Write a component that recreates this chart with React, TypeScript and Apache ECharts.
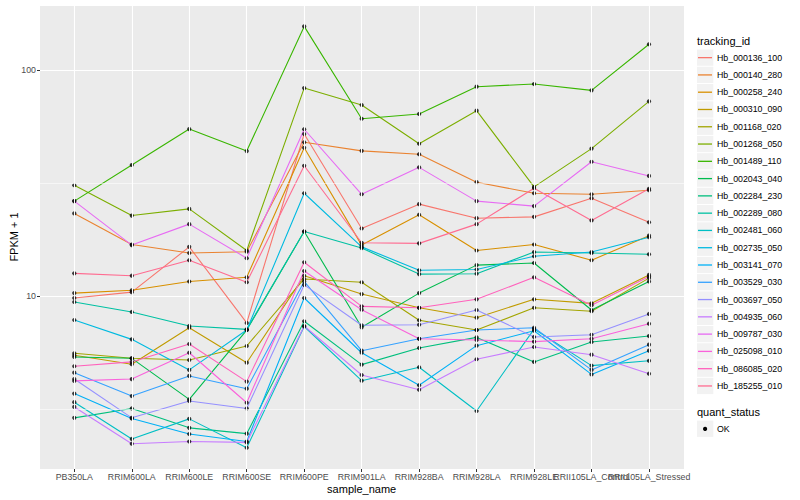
import React, { useEffect, useRef } from "react";
import * as echarts from "echarts";

const categories = [
  "PB350LA", "RRIM600LA", "RRIM600LE", "RRIM600SE", "RRIM600PE", "RRIM901LA",
  "RRIM928BA", "RRIM928LA", "RRIM928LE", "RRII105LA_Control", "RRII105LA_Stressed",
];

const trackingIds = [
  "Hb_000136_100", "Hb_000140_280", "Hb_000258_240", "Hb_000310_090", "Hb_001168_020",
  "Hb_001268_050", "Hb_001489_110", "Hb_002043_040", "Hb_002284_230", "Hb_002289_080",
  "Hb_002481_060", "Hb_002735_050", "Hb_003141_070", "Hb_003529_030", "Hb_003697_050",
  "Hb_004935_060", "Hb_009787_030", "Hb_025098_010", "Hb_086085_020", "Hb_185255_010",
];

const colors = [
  "#F8766D", "#EA8331", "#D89000", "#C09B00", "#A3A500", "#7CAE00", "#39B600",
  "#00BB4E", "#00BF7D", "#00C1A3", "#00BFC4", "#00BAE0", "#00B0F6", "#35A2FF",
  "#9590FF", "#C77CFF", "#E76BF3", "#FA62DB", "#FF62BC", "#FF6C91",
];

// FPKM + 1 per sample, in category order
const Hb_000136_100 = [9.8, 10.4, 16.5, 7.6, 52.1, 19.9, 25.5, 22.1, 22.4, 27.1, 21.2];
const Hb_000140_280 = [23.2, 16.9, 15.5, 15.7, 47.9, 43.9, 42.4, 31.9, 28.5, 28.2, 29.4];
const Hb_000258_240 = [10.3, 10.6, 11.6, 12.1, 45.3, 16.8, 22.9, 15.9, 16.9, 14.4, 18.5];
const Hb_000310_090 = [5.47, 4.99, 7.24, 5.07, 12.3, 10.2, 8.87, 8.02, 9.67, 9.28, 12.4];
const Hb_001168_020 = [5.58, 5.3, 5.21, 6.01, 11.9, 11.5, 7.81, 7.07, 8.87, 8.56, 12.0];
const Hb_001268_050 = [30.9, 22.7, 24.3, 15.9, 83.2, 70.0, 47.2, 66.1, 30.4, 44.9, 72.7];
const Hb_001489_110 = [26.3, 38.0, 54.8, 43.8, 156, 60.9, 63.9, 84.4, 86.7, 81.3, 130];
const Hb_002043_040 = [5.37, 5.3, 3.49, 7.07, 19.3, 7.27, 10.3, 13.7, 14.0, 8.67, 11.6];
const Hb_002284_230 = [2.89, 3.18, 2.61, 2.46, 7.73, 4.97, 5.89, 6.56, 5.11, 6.26, 6.65];
const Hb_002289_080 = [9.41, 8.5, 7.37, 7.12, 19.3, 16.3, 12.5, 12.55, 15.65, 15.5, 15.3];
const Hb_002481_060 = [3.39, 2.33, 2.86, 2.13, 7.33, 4.22, 4.84, 3.1, 7.14, 4.92, 5.17];
const Hb_002735_050 = [7.83, 6.43, 4.71, 7.07, 28.5, 16.5, 13.0, 13.1, 15.0, 15.65, 18.2];
const Hb_003141_070 = [3.7, 2.87, 2.45, 2.27, 9.8, 5.61, 4.03, 6.03, 7.02, 4.5, 5.73];
const Hb_003529_030 = [4.58, 3.61, 4.43, 3.89, 11.6, 5.73, 6.47, 7.07, 7.24, 4.71, 6.09];
const Hb_003697_050 = [4.29, 2.89, 3.43, 3.18, 11.2, 7.42, 7.46, 8.67, 6.59, 6.74, 8.33];
const Hb_004935_060 = [3.23, 2.22, 2.27, 2.25, 7.37, 4.47, 3.85, 5.25, 5.95, 5.5, 4.53];
const Hb_009787_030 = [26.3, 16.8, 20.8, 14.7, 54.7, 28.2, 37.1, 26.3, 25.0, 39.3, 34.0];
const Hb_025098_010 = [4.21, 4.29, 5.61, 3.37, 12.9, 8.7, 6.47, 6.39, 6.28, 6.47, 7.54];
const Hb_086085_020 = [4.89, 5.11, 6.13, 4.18, 14.1, 9.0, 8.87, 9.67, 12.1, 9.1, 12.2];
const Hb_185255_010 = [12.6, 12.3, 14.4, 11.5, 37.7, 17.2, 17.1, 20.8, 30.0, 21.6, 29.8];

const seriesValues = [
  Hb_000136_100, Hb_000140_280, Hb_000258_240, Hb_000310_090, Hb_001168_020,
  Hb_001268_050, Hb_001489_110, Hb_002043_040, Hb_002284_230, Hb_002289_080,
  Hb_002481_060, Hb_002735_050, Hb_003141_070, Hb_003529_030, Hb_003697_050,
  Hb_004935_060, Hb_009787_030, Hb_025098_010, Hb_086085_020, Hb_185255_010,
];

const minorBreaks = [3.1623, 31.623];
const yMin = 1.716;
const yMax = 194;

const FONT = "'Liberation Sans', Arial, Helvetica, sans-serif";
const KEY_TOP = 49;
const KEY_H = 17.28;

function buildOption() {
  const lineSeries = trackingIds.map((id, i) => ({
    name: id,
    type: "line",
    xAxisIndex: 1,
    yAxisIndex: 1,
    data: seriesValues[i],
    showSymbol: false,
    symbol: "none",
    silent: true,
    z: 3,
    lineStyle: { color: colors[i], width: 1.1 },
    itemStyle: { color: colors[i] },
  }));
  const pointSeries = trackingIds.map((id, i) => ({
    name: id,
    type: "scatter",
    xAxisIndex: 1,
    yAxisIndex: 1,
    data: seriesValues[i],
    symbol: "circle",
    symbolSize: 4.2,
    silent: true,
    z: 4,
    itemStyle: { color: "#000000" },
  }));

  const graphics: any[] = [
    {
      type: "text", x: 697, y: 40.5, z: 10,
      style: { text: "tracking_id", fontSize: 11, fontFamily: FONT, fill: "#000", verticalAlign: "middle", align: "left" },
    },
    {
      type: "text", x: 697, y: 412.3, z: 10,
      style: { text: "quant_status", fontSize: 11, fontFamily: FONT, fill: "#000", verticalAlign: "middle", align: "left" },
    },
    {
      type: "rect", z: 1, shape: { x: 697, y: 420.6, width: 16.3, height: 16.3 },
      style: { fill: "#F2F2F2" },
    },
    {
      type: "circle", z: 10, shape: { cx: 705.1, cy: 428.9, r: 2.1 },
      style: { fill: "#000" },
    },
    {
      type: "text", x: 717, y: 428.9, z: 10,
      style: { text: "OK", fontSize: 8.8, fontFamily: FONT, fill: "#000", verticalAlign: "middle", align: "left" },
    },
  ];
  trackingIds.forEach((_, i) => {
    graphics.push({
      type: "rect", z: 1,
      shape: { x: 697, y: KEY_TOP + i * KEY_H + 0.5, width: 16.3, height: KEY_H - 1 },
      style: { fill: "#F2F2F2" },
    });
  });

  return {
    animation: false,
    backgroundColor: "#ffffff",
    textStyle: { fontFamily: FONT },
    grid: [
      { left: 40, right: 116, top: 5, bottom: 31, show: true, backgroundColor: "#EBEBEB", borderWidth: 0, containLabel: false, outerBoundsMode: "none" },
      { left: 45.57, right: 122.26, top: 5, bottom: 31, show: false, containLabel: false, outerBoundsMode: "none" },
    ],
    xAxis: [
      { type: "value", gridIndex: 0, min: 0, max: 1, show: false },
      {
        type: "category",
        gridIndex: 1,
        data: categories,
        boundaryGap: true,
        axisLine: { show: false },
        axisTick: { show: true, alignWithLabel: true, length: 3, lineStyle: { color: "#333333", width: 1 } },
        axisLabel: { interval: 0, fontSize: 8.8, color: "#4D4D4D", margin: 3, fontFamily: FONT },
        splitLine: { show: false },
        name: "sample_name",
        nameLocation: "middle",
        nameGap: 14.5,
        nameMoveOverlap: false,
        nameTextStyle: { fontSize: 11, color: "#000", fontFamily: FONT },
      },
    ],
    yAxis: [
      {
        type: "log",
        logBase: 10,
        gridIndex: 0,
        min: yMin,
        max: yMax,
        axisLine: { show: false },
        axisTick: { show: true, length: 3, lineStyle: { color: "#333333", width: 1 } },
        axisLabel: { fontSize: 8.8, color: "#4D4D4D", margin: 4, showMinLabel: false, showMaxLabel: false, fontFamily: FONT },
        splitLine: { show: true, lineStyle: { color: "#ffffff", width: 1.1 } },
        name: "FPKM + 1",
        nameLocation: "middle",
        nameGap: 21,
        nameMoveOverlap: false,
        nameRotate: 90,
        nameTextStyle: { fontSize: 11, color: "#000", fontFamily: FONT },
      },
      { type: "log", logBase: 10, gridIndex: 1, min: yMin, max: yMax, show: false },
    ],
    legend: {
      orient: "vertical",
      left: 698,
      top: KEY_TOP,
      padding: 0,
      itemGap: 0,
      itemWidth: 14,
      itemHeight: KEY_H,
      icon: "path://M0,0H14V1.3H0Z",
      selectedMode: false,
      z: 6,
      itemStyle: { borderWidth: 0 },
      textStyle: { fontSize: 8.8, color: "#000", lineHeight: KEY_H, fontFamily: FONT },
      data: trackingIds.map((id, i) => ({ name: id, itemStyle: { color: colors[i], borderWidth: 0 } })),
    },
    graphic: graphics,
    series: [
      {
        type: "line",
        xAxisIndex: 0,
        yAxisIndex: 0,
        data: [],
        silent: true,
        z: 1,
        markLine: {
          silent: true,
          animation: false,
          symbol: ["none", "none"],
          label: { show: false },
          lineStyle: { color: "#ffffff", width: 0.55, type: "solid" },
          emphasis: { disabled: true },
          data: minorBreaks.map((v) => ({ yAxis: v })),
        },
      },
      {
        type: "line",
        xAxisIndex: 1,
        yAxisIndex: 1,
        data: [],
        silent: true,
        z: 1,
        markLine: {
          silent: true,
          animation: false,
          symbol: ["none", "none"],
          label: { show: false },
          lineStyle: { color: "#ffffff", width: 1.1, type: "solid" },
          emphasis: { disabled: true },
          data: categories.map((c) => ({ xAxis: c })),
        },
      },
      ...lineSeries,
      ...pointSeries,
    ],
  };
}

export default function App() {
  const ref = useRef<HTMLDivElement>(null);
  useEffect(() => {
    if (!ref.current) return;
    const chart = echarts.init(ref.current, null, { renderer: "svg" });
    chart.setOption(buildOption() as any);
    return () => {
      chart.dispose();
    };
  }, []);
  return (
    <div
      ref={ref}
      style={{ position: "absolute", left: 0, top: 0, width: 800, height: 500 }}
    />
  );
}
